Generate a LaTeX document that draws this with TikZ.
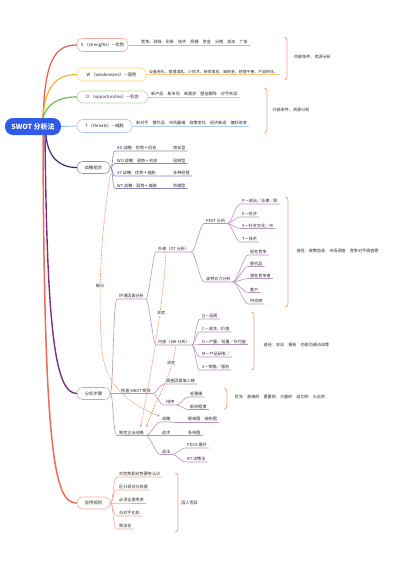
\documentclass[tikz,border=0pt]{standalone}
\usepackage{fontspec}
\setmainfont{Noto Sans CJK SC}
\usetikzlibrary{calc,arrows.meta}
\definecolor{rootblue}{HTML}{2F5BE7}
\definecolor{txt}{HTML}{262626}
\definecolor{sL}{HTML}{E9574D}\definecolor{sB}{HTML}{F3A7A1}
\definecolor{wL}{HTML}{F6B324}\definecolor{wB}{HTML}{F8D27A}
\definecolor{oL}{HTML}{6DBF4B}\definecolor{oB}{HTML}{AEDB95}
\definecolor{tL}{HTML}{8FB5EF}\definecolor{tB}{HTML}{AFC8F3}
\definecolor{zM}{HTML}{2F2C7A}\definecolor{zB}{HTML}{9490C6}\definecolor{zC}{HTML}{8985BF}
\definecolor{fM}{HTML}{7B2E80}\definecolor{fB}{HTML}{C8A2CB}\definecolor{fC}{HTML}{BB91C0}
\definecolor{yM}{HTML}{F06A56}\definecolor{yB}{HTML}{F5AEA2}\definecolor{yC}{HTML}{F4A596}
\definecolor{brkc}{HTML}{F3A07E}
\definecolor{dashc}{HTML}{F08A5E}
\newcommand\myfs[1]{\fontsize{#1pt}{#1pt}\selectfont}
\begin{document}
\begin{tikzpicture}[x=1pt,y=-1pt,
  root/.style={fill=rootblue, text=white, rounded corners=8pt, minimum width=56pt, minimum height=17pt, inner sep=0pt, font=\myfs{7}\bfseries},
  pill/.style={draw=#1, line width=0.6pt, fill=white, rounded corners=5.8pt, inner sep=0pt, font=\myfs{4.3}, text=txt},
  leaf/.style={anchor=south west, inner xsep=2pt, inner ysep=0.8pt, font=\myfs{4.1}, text=txt},
  lbl/.style={inner sep=0.6pt, font=\myfs{4.1}, text=txt},
  con/.style={draw=#1, line width=0.6pt},
  mainline/.style={draw=#1, line width=1.2pt, line cap=round},
  brk/.style={draw=brkc, line width=0.7pt},
  rel/.style={draw=dashc, line width=0.6pt, dash pattern=on 1.6pt off 1.1pt, -{Stealth[length=2.8pt,width=2.2pt]}},
  rellbl/.style={lbl, fill=white}
]
\useasboundingbox (0,0) rectangle (400,565);

% ---------- main branches ----------
\node[root] (root) at (33,126.5) {SWOT 分析法};
\node[pill=sB, minimum width=51pt, minimum height=13pt] (S) at (102.5,45) {S （strengths）—优势};
\node[pill=wB, minimum width=69pt, minimum height=13pt] (W) at (111.5,74.5) {W （weaknesses）—弱势};
\node[pill=oB, minimum width=71pt, minimum height=12pt] (O) at (112.5,97) {O （opportunities）—机会};
\node[pill=tB, minimum width=55pt, minimum height=13pt] (T) at (104.5,126) {T （threats）—威胁};
\node[pill=zB, minimum width=33pt, minimum height=12pt] (ZL) at (93.5,167.5) {战略组合};
\node[pill=fB, minimum width=33pt, minimum height=12pt] (FX) at (93.5,393.5) {分析步骤};
\node[pill=yB, minimum width=33pt, minimum height=12pt] (YY) at (93.5,503) {应用规划};

\draw[mainline=sL] ($(root.north)+(10,0)$) .. controls (45,60) and (55,45) .. (S.west);
\draw[mainline=wL] ($(root.north)+(10,0)$) .. controls (45,88) and (55,74.5) .. (W.west);
\draw[mainline=oL] ($(root.north)+(10,0)$) .. controls (47,104) and (58,97) .. (O.west);
\draw[con=tL, line width=0.8pt] (root.east) -- (T.west);
\draw[mainline=zM] ($(root.south)+(13,0)$) .. controls (48,158) and (60,167.5) .. (ZL.west);
\draw[mainline=fM, line width=1.4pt] ($(root.south)+(12,0)$) .. controls (47,330) and (55,393.5) .. (FX.west);
\draw[mainline=yM, line width=1.5pt] ($(root.south)+(10,0)$) .. controls (44,460) and (55,503) .. (YY.west);

% ---------- S W O T details ----------
\node[leaf] (Sd) at (139,45) {竞争、财政、形象　技术　规模　资金　分销　成本　广告};
\node[leaf, font=\myfs{3.9}] (Wd) at (147,74.5) {设备老化、管理混乱、少技术、研发落后、缺资金、经营不善、产品积压、};
\node[leaf] (Od) at (149,97) {新产品　新市场　新需求　壁垒解除　对手失误};
\node[leaf] (Td) at (134,126) {新对手　替代品　市场萎缩　政策变化　经济衰退　偏好改变};
\draw[con=sB] (S.east) -- (Sd.south east);
\draw[con=wB] (W.east) -- (Wd.south east);
\draw[con=oB] (O.east) -- (Od.south east);
\draw[con=tB] (T.east) -- (Td.south east);

\draw[brk] (284,37) to[out=10,in=90] (287,47) -- (287,70) to[out=-90,in=-10] (284,80);
\node[lbl] (b1) at (312.5,57) {内部条件、资源分析};
\draw[brk] (264,88) to[out=10,in=90] (267,98) -- (267,123) to[out=-90,in=-10] (264,133);
\node[lbl] (b2) at (291,110) {外部条件、资源分析};

% ---------- 战略组合 ----------
\node[leaf] (so) at (115,151) {SO 战略：优势＋机会};
\node[leaf] (so2) at (171,151) {增长型};
\node[leaf] (wo) at (115,163.5) {WO 战略：弱势＋机会};
\node[leaf] (wo2) at (171,163.5) {扭转型};
\node[leaf] (st) at (115,176) {ST 战略：优势＋威胁};
\node[leaf] (st2) at (171,176) {多种经营};
\node[leaf] (wt) at (115,188.5) {WT 战略：弱势＋威胁};
\node[leaf] (wt2) at (171,188.5) {防御型};
\foreach \a/\b in {so/so2,wo/wo2,st/st2,wt/wt2}
  \draw[con=zC] (ZL.east) .. controls +(3,0) and +(-3,0) .. (\a.south west) -- (\b.south east);

% ---------- 分析步骤 ----------
\node[leaf] (env) at (117,299) {环境因素分析};
\node[leaf] (gz) at (119,393.5) {构造 SWOT 矩阵};
\node[leaf] (zd) at (117,435.5) {制定企业战略};
\draw[con=fC] (FX.east) .. controls +(3,0) and +(-4,0) .. (env.south west) -- (env.south east);
\draw[con=fC] (FX.east) -- (gz.south east);
\draw[con=fC] (FX.east) .. controls +(3,0) and +(-4,0) .. (zd.south west) -- (zd.south east);

\node[leaf] (wb) at (156,252) {外部（OT 分析）};
\node[leaf] (nb) at (156,345) {内部（SW 分析）};
\draw[con=fC] (env.south east) .. controls +(3,0) and +(-3,0) .. (wb.south west) -- (wb.south east);
\draw[con=fC] (env.south east) .. controls +(3,0) and +(-3,0) .. (nb.south west) -- (nb.south east);

\node[leaf] (pest) at (204,223.5) {PEST 分析};
\node[leaf] (wl) at (204,282) {波特五力分析};
\draw[con=fC] (wb.south east) .. controls +(4,0) and +(-4,0) .. (pest.south west) -- (pest.south east);
\draw[con=fC] (wb.south east) .. controls +(4,0) and +(-4,0) .. (wl.south west) -- (wl.south east);

\node[leaf] (p1) at (240,204) {P－政治／法律／政};
\node[leaf] (p2) at (240,217) {E－经济};
\node[leaf] (p3) at (240,228.5) {S－社会文化／市};
\node[leaf] (p4) at (240,242) {T－技术};
\foreach \c in {p1,p2,p3,p4}
  \draw[con=fC] (pest.south east) .. controls +(4,0) and +(-4,0) .. (\c.south west) -- (\c.south east);

\node[leaf] (f1) at (248,255) {现在竞争};
\node[leaf] (f2) at (248,266.5) {替代品};
\node[leaf] (f3) at (248,278.5) {潜在竞争者};
\node[leaf] (f4) at (248,292.5) {客户};
\node[leaf] (f5) at (248,304) {供应商};
\foreach \c in {f1,f2,f3,f4,f5}
  \draw[con=fC] (wl.south east) .. controls +(4,0) and +(-4,0) .. (\c.south west) -- (\c.south east);

\draw[brk] (285,197) to[out=10,in=90] (288,207) -- (288,297) to[out=-90,in=-10] (285,307);
\node[lbl] (b3) at (337.5,251) {途径：政策信息　市场调查　竞争对手调查等};

\node[leaf] (q1) at (200,319) {Q－品质};
\node[leaf] (q2) at (200,332) {C－成本／价值};
\node[leaf] (q3) at (200,344.5) {D－产量／批量／交付能};
\node[leaf] (q4) at (200,357) {M－产品研发／};
\node[leaf] (q5) at (200,370) {S－销售／服务};
\foreach \c in {q1,q2,q3,q4,q5}
  \draw[con=fC] (nb.south east) .. controls +(3,0) and +(-4,0) .. (\c.south west) -- (\c.south east);

\draw[brk] (251,312) to[out=10,in=90] (254,321) -- (254,361) to[out=-90,in=-10] (251,370);
\node[lbl] (b4) at (296.5,345) {途径：会议　报告　内部沟通访谈等};

\node[leaf] (dc) at (164,384) {调查因素填入格};
\node[leaf] (px) at (164,405) {排序};
\draw[con=fC] (gz.south east) .. controls +(3,0) and +(-4,0) .. (dc.south west) -- (dc.south east);
\draw[con=fC] (gz.south east) .. controls +(3,0) and +(-4,0) .. (px.south west) -- (px.south east);
\node[leaf] (qz) at (188,397) {轻重缓};
\node[leaf] (yx) at (188,409.5) {影响程度};
\draw[con=fC] (px.south east) .. controls +(4,0) and +(-4,0) .. (qz.south west) -- (qz.south east);
\draw[con=fC] (px.south east) .. controls +(4,0) and +(-4,0) .. (yx.south west) -- (yx.south east);

\draw[brk] (224,388) to[out=10,in=90] (227,394) -- (227,403) to[out=-90,in=-10] (224,409);
\node[lbl] (b5) at (280,397) {优先：直接的　重要的　大量的　迫切的　久远的};

\node[leaf] (zl) at (160,422) {战略};
\node[leaf] (zs) at (160,435.5) {战术};
\node[leaf] (zf) at (160,454.5) {战法};
\draw[con=fC] (zd.south east) .. controls +(4,0) and +(-4,0) .. (zl.south west) -- (zl.south east);
\draw[con=fC] (zd.south east) -- (zs.south east);
\draw[con=fC] (zd.south east) .. controls +(4,0) and +(-4,0) .. (zf.south west) -- (zf.south east);
\node[leaf] (kj) at (186,422) {框架图　结构图};
\node[leaf] (xt) at (186,435.5) {系统图};
\draw[con=fC] (zl.south east) -- (kj.south east);
\draw[con=fC] (zs.south east) -- (xt.south east);
\node[leaf] (pd) at (185,448) {PDCA 循环};
\node[leaf] (kt) at (185,462) {KT 决策法};
\draw[con=fC] (zf.south east) .. controls +(4,0) and +(-4,0) .. (pd.south west) -- (pd.south east);
\draw[con=fC] (zf.south east) .. controls +(4,0) and +(-4,0) .. (kt.south west) -- (kt.south east);

% ---------- 应用规划 ----------
\node[leaf] (a1) at (117,477) {对优势和劣势要有认识};
\node[leaf] (a2) at (117,490) {区分现状与前景};
\node[leaf] (a3) at (117,503) {必须全面考虑};
\node[leaf] (a4) at (117,516) {与对手比较};
\node[leaf] (a5) at (117,529) {简洁化};
\foreach \c in {a1,a2,a3,a4,a5}
  \draw[con=yC] (YY.east) .. controls +(3,0) and +(-4,0) .. (\c.south west) -- (\c.south east);
\draw[brk] (175,473) to[out=10,in=90] (178,483) -- (178,522) to[out=-90,in=-10] (175,532);
\node[lbl] (b6) at (189.5,503) {因人而异};

% ---------- relationships ----------
\draw[rel] (ZL.south east) .. controls (100,240) and (98,300) .. (102,350) .. controls (105,385) and (130,405) .. (zl.north west);
\draw[rel] ($(wb.south west)+(10,0)$) .. controls (164,300) and (150,380) .. ($(zd.north)+(9,-2.5)$);
\draw[rel] ($(nb.south)+(1.5,2)$) .. controls (173,375) and (155,400) .. ($(zd.north)+(15,-2.5)$);
\node[rellbl] (xf) at (100,286) {细分};
\node[rellbl] (jd1) at (161,313) {决定};
\node[rellbl] (jd2) at (171,363) {决定};
\end{tikzpicture}
\end{document}
